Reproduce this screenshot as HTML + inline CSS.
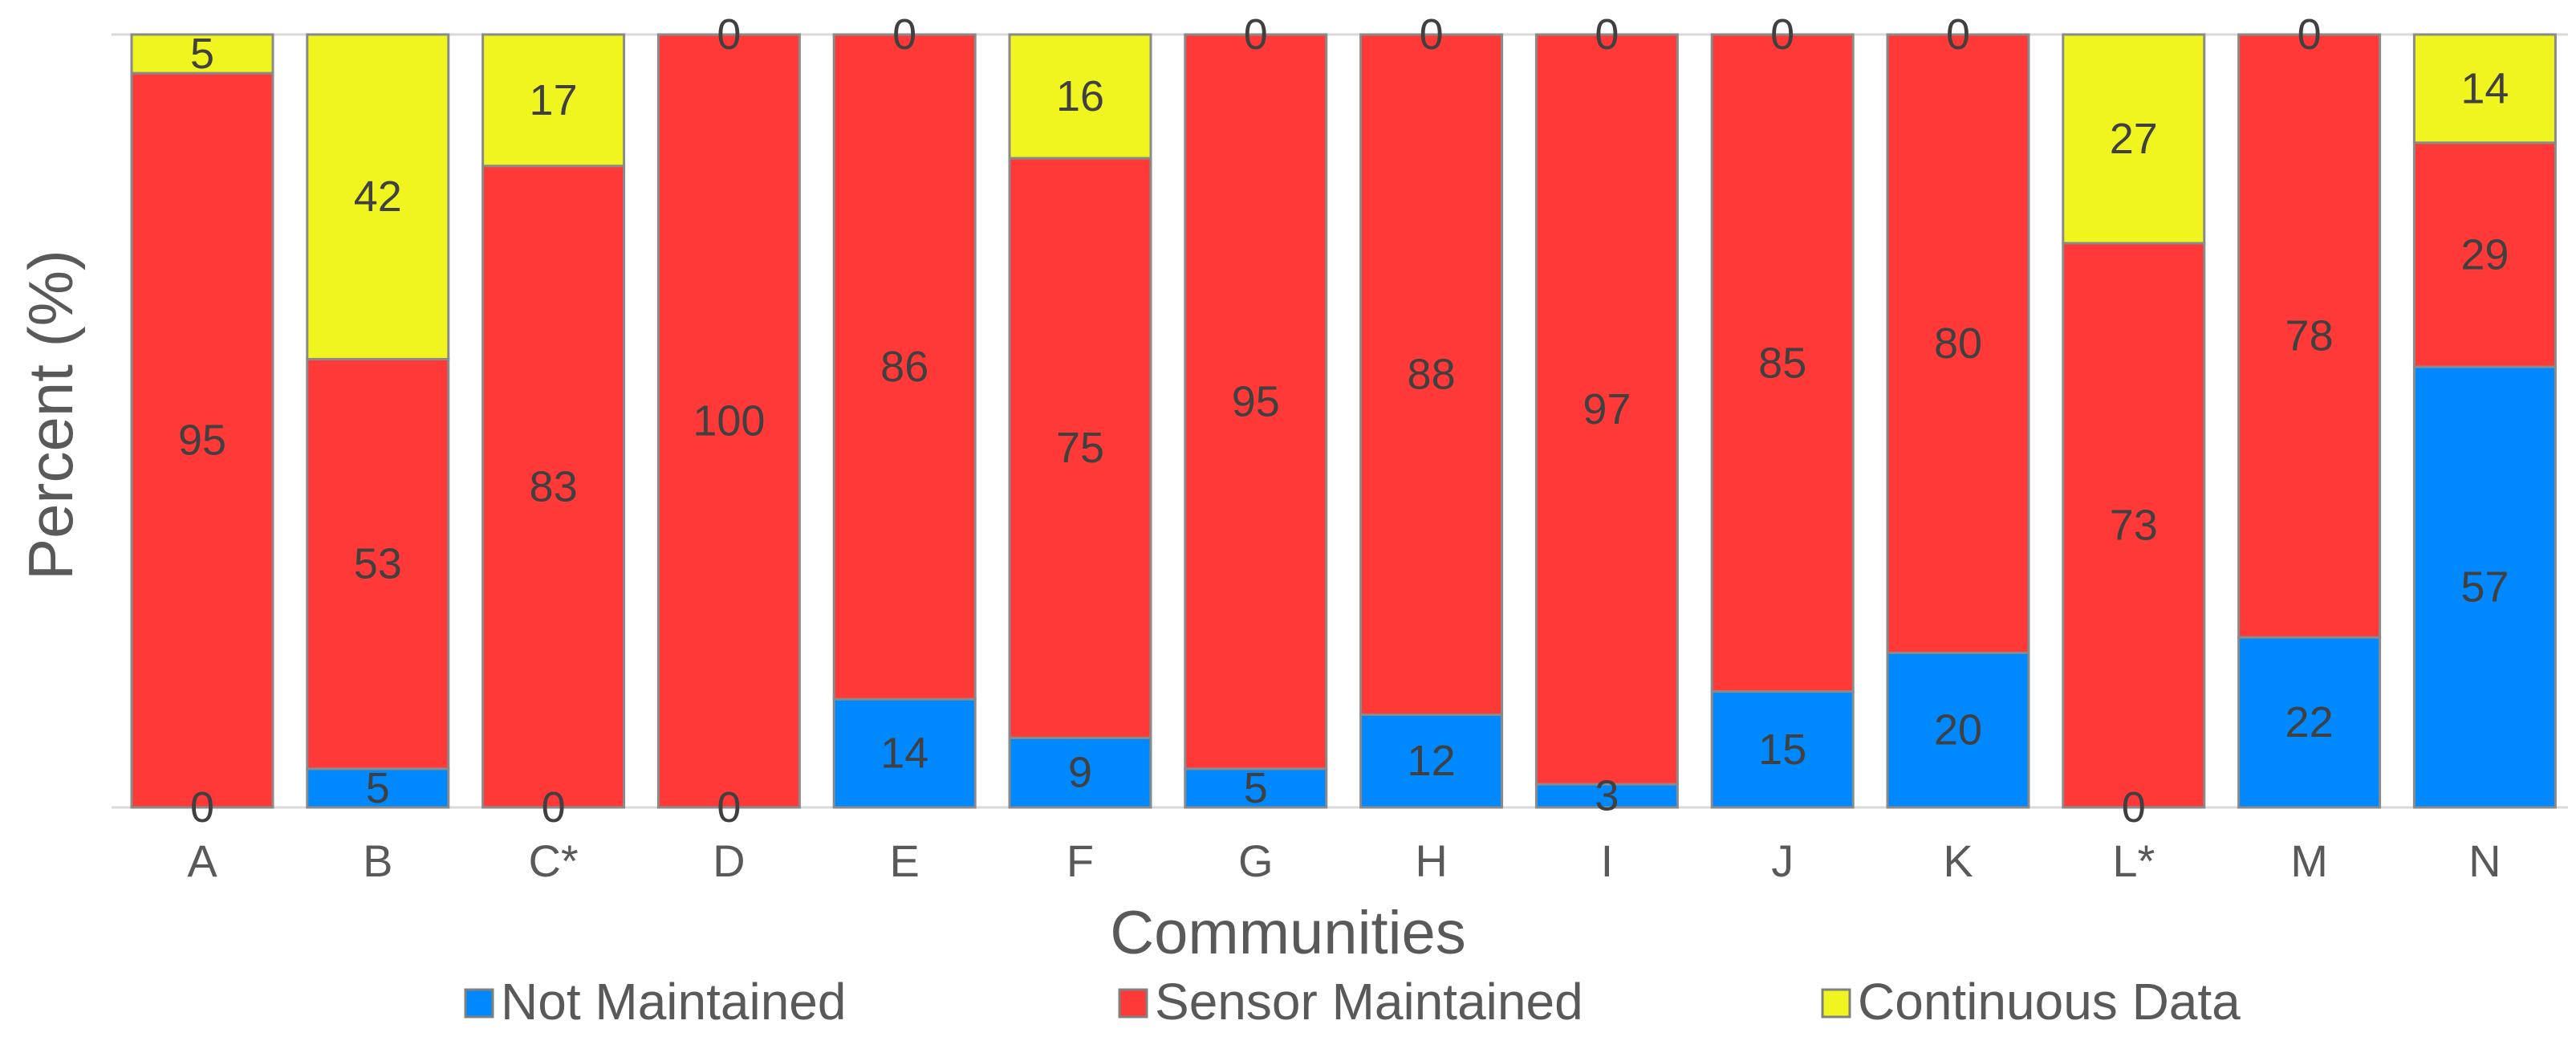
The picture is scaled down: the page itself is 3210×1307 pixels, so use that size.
<!DOCTYPE html>
<html><head><meta charset="utf-8"><style>
html,body{margin:0;padding:0;background:#fff;}
svg{display:block;font-family:"Liberation Sans",Arial,sans-serif;}
</style></head><body>
<svg id="chart" width="3210" height="1307" viewBox="0 0 3210 1307">
<line x1="139" y1="43" x2="3200" y2="43" stroke="#d9d9d9" stroke-width="3"/>
<line x1="139" y1="1006" x2="3200" y2="1006" stroke="#d9d9d9" stroke-width="3"/>
<g id="bars"></g>
<g id="labels"></g>
<g id="xticks"></g>
<text x="63" y="517" transform="rotate(-90 63 517)" text-anchor="middle" dominant-baseline="central" font-size="78" fill="#595959">Percent (%)</text>
<text x="1605" y="1188" text-anchor="middle" font-size="76" fill="#595959">Communities</text>
<g>
<g><rect x="580" y="1233" width="34" height="34" fill="#0088ff" stroke="#808080" stroke-width="3"/><text x="624" y="1270" font-size="64" fill="#595959">Not Maintained</text></g>
<g><rect x="1395" y="1233" width="34" height="34" fill="#ff3838" stroke="#808080" stroke-width="3"/><text x="1439" y="1270" font-size="64" fill="#595959">Sensor Maintained</text></g>
<g><rect x="2271" y="1233" width="34" height="34" fill="#f0f520" stroke="#808080" stroke-width="3"/><text x="2315" y="1270" font-size="64" fill="#595959">Continuous Data</text></g>
</g>
</svg>
<script>
const categories = ["A","B","C*","D","E","F","G","H","I","J","K","L*","M","N"];
const notMaintained = [0,5,0,0,14,9,5,12,3,15,20,0,22,57];
const sensorMaintained = [95,53,83,100,86,75,95,88,97,85,80,73,78,29];
const continuousData = [5,42,17,0,0,16,0,0,0,0,0,27,0,14];
const seriesNames = ["not-maintained","sensor-maintained","continuous-data"];
const seriesColors = ["#0088ff","#ff3838","#f0f520"];

const NS="http://www.w3.org/2000/svg";
const plotTop=43, plotBottom=1006, firstLeft=164, pitch=218.8, barW=176;
function yScale(v){return plotBottom-(v/100)*(plotBottom-plotTop);}
function xLeft(i){return firstLeft+i*pitch;}
const barsG=document.getElementById('bars');
const labG=document.getElementById('labels');
const xG=document.getElementById('xticks');
const all=[notMaintained,sensorMaintained,continuousData];
categories.forEach((c,i)=>{
  let cum=0;
  all.forEach((s,k)=>{
    const v=s[i];
    const y0=yScale(cum), y1=yScale(cum+v);
    if(v>0){
      const r=document.createElementNS(NS,'rect');
      r.setAttribute('x',xLeft(i));r.setAttribute('y',y1);
      r.setAttribute('width',barW);r.setAttribute('height',y0-y1);
      r.setAttribute('fill',seriesColors[k]);r.setAttribute('stroke','#8a8a8a');r.setAttribute('stroke-width','3');
      
      
      barsG.appendChild(r);
    }
    const t=document.createElementNS(NS,'text');
    t.setAttribute('x',xLeft(i)+barW/2);t.setAttribute('y',(y0+y1)/2);
    t.setAttribute('text-anchor','middle');t.setAttribute('dominant-baseline','central');
    t.setAttribute('font-size','54');t.setAttribute('fill','#404040');
    t.textContent=v;
    
    
    labG.appendChild(t);
    cum+=v;
  });
  const xt=document.createElementNS(NS,'text');
  xt.setAttribute('x',xLeft(i)+barW/2);xt.setAttribute('y',1092);
  xt.setAttribute('text-anchor','middle');xt.setAttribute('font-size','56');xt.setAttribute('fill','#595959');
  xt.textContent=c;
  
  
  xG.appendChild(xt);
});
</script>
</body></html>
